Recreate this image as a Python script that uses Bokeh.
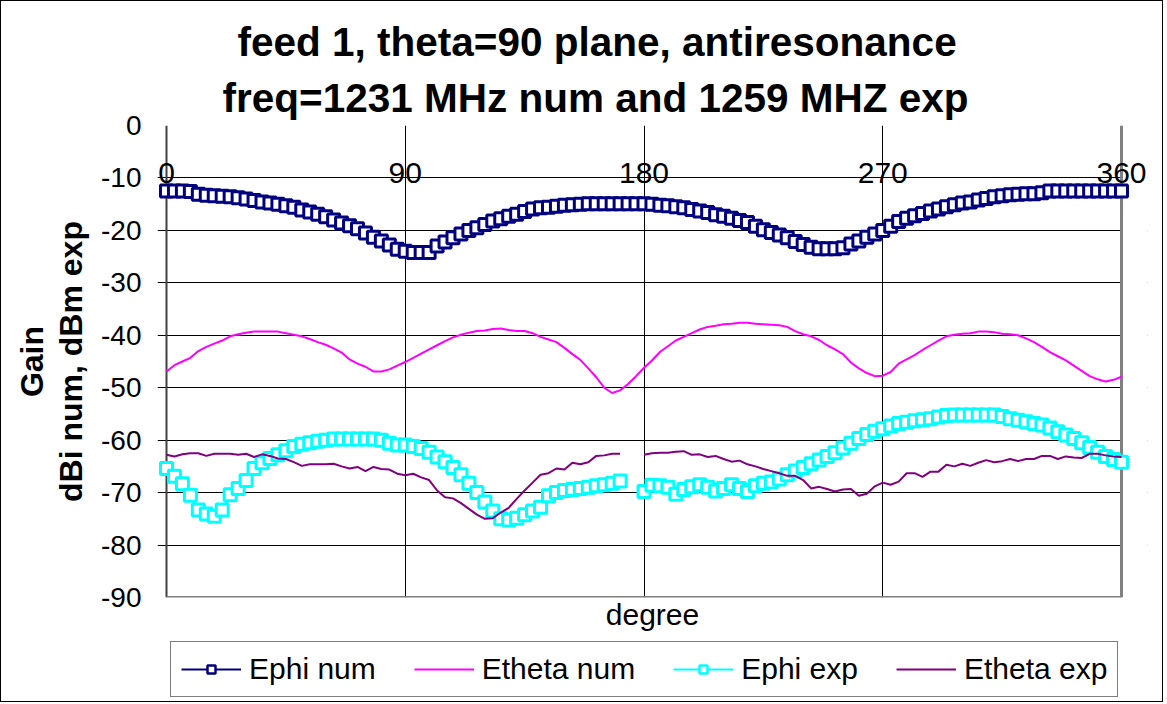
import math
from bokeh.plotting import figure
from bokeh.layouts import column
from bokeh.models import (ColumnDataSource, FixedTicker, LinearAxis, Range1d,
                          Title, Legend, LegendItem, BoxAnnotation)
from bokeh.embed import file_html
from bokeh.resources import INLINE

NAN = float("nan")

# x values: degrees (every 3 degrees)
ANGLE = list(range(0, 361, 3))

EPHI_NUM = [
    -12.5, -12.5, -12.5, -12.6, -13.1, -13.3, -13.4, -13.5, -13.6, -13.8,
    -14.0, -14.3, -14.6, -14.8, -15.0, -15.3, -15.6, -16.1, -16.5, -16.9,
    -17.4, -18.0, -18.6, -19.1, -19.7, -20.5, -21.3, -22.0, -22.8, -23.6,
    -24.0, -24.2, -24.2, -24.2, -23.0, -22.2, -21.4, -20.7, -20.0, -19.5,
    -18.9, -18.2, -17.8, -17.3, -16.9, -16.4, -15.9, -15.7, -15.6, -15.4,
    -15.2, -15.1, -15.0, -14.9, -14.9, -14.9, -14.9, -14.9, -14.9, -14.9,
    -14.9, -15.0, -15.2, -15.3, -15.5, -15.7, -16.0, -16.3, -16.6, -17.0,
    -17.3, -17.7, -18.1, -18.5, -19.2, -19.9, -20.4, -20.9, -21.4, -22.1,
    -22.7, -23.2, -23.5, -23.5, -23.5, -23.3, -22.6, -22.0, -21.3, -20.7,
    -20.0, -19.2, -18.3, -17.7, -17.2, -16.8, -16.3, -15.9, -15.5, -15.1,
    -14.8, -14.6, -14.2, -13.9, -13.6, -13.4, -13.2, -13.1, -13.0, -13.0,
    -12.8, -12.5, -12.5, -12.5, -12.5, -12.5, -12.5, -12.5, -12.5, -12.5,
    -12.5,
]

ETHETA_NUM = [
    -46.9, -45.7, -45.0, -44.3, -43.0, -42.2, -41.6, -41.0, -40.2, -39.8,
    -39.5, -39.3, -39.3, -39.3, -39.3, -39.6, -39.9, -40.2, -40.7, -41.3,
    -41.8, -42.5, -43.3, -44.6, -45.4, -46.0, -46.9, -46.9, -46.5, -45.8,
    -45.1, -44.3, -43.5, -42.7, -41.9, -41.1, -40.4, -39.9, -39.5, -39.2,
    -39.1, -38.8, -38.7, -39.0, -39.2, -39.2, -39.6, -40.3, -40.8, -41.3,
    -42.4, -43.6, -44.7, -46.3, -48.0, -50.0, -51.0, -50.5, -49.3, -47.8,
    -46.2, -44.8, -43.2, -42.1, -41.0, -40.3, -39.6, -38.9, -38.4, -38.2,
    -37.9, -37.8, -37.6, -37.6, -37.8, -37.9, -38.0, -38.1, -38.4, -39.2,
    -39.8, -40.2, -40.9, -41.9, -42.7, -43.6, -45.2, -46.3, -47.2, -47.8,
    -47.7, -47.0, -45.4, -44.6, -43.8, -42.8, -41.9, -41.0, -40.2, -39.9,
    -39.7, -39.6, -39.3, -39.3, -39.4, -39.7, -39.8, -40.0, -40.6, -41.3,
    -42.2, -43.2, -44.0, -44.8, -45.8, -46.8, -47.8, -48.4, -48.8, -48.5,
    -47.9,
]

EPHI_EXP = [
    -65.4, -66.9, -68.3, -70.5, -73.3, -74.1, -74.5, -73.3, -70.4, -69.2,
    -67.7, -65.4, -64.3, -63.5, -62.8, -62.0, -61.2, -60.8, -60.5, -60.2,
    -60.0, -59.8, -59.8, -59.8, -59.8, -59.8, -59.8, -60.0, -60.6, -60.9,
    -60.9, -61.2, -61.6, -62.3, -63.2, -64.1, -65.2, -66.6, -68.2, -70.0,
    -71.8, -73.5, -75.0, -75.2, -74.9, -74.2, -73.5, -72.8, -70.6, -70.0,
    -69.6, -69.4, -69.2, -69.0, -68.7, -68.5, -68.2, -67.8, NAN, NAN,
    -69.8, -68.6, -68.7, -69.0, -70.3, -69.4, -68.9, -68.5, -69.0, -69.7,
    -69.2, -68.5, -69.2, -69.8, -68.7, -68.2, -68.0, -67.4, -66.6, -65.9,
    -65.2, -64.5, -63.8, -63.1, -62.4, -61.5, -60.6, -59.7, -58.9, -58.3,
    -57.8, -57.3, -56.8, -56.6, -56.3, -56.1, -55.9, -55.6, -55.3, -55.2,
    -55.2, -55.2, -55.2, -55.2, -55.2, -55.5, -55.9, -56.2, -56.5, -56.8,
    -57.1, -57.7, -58.4, -59.0, -59.7, -60.5, -61.4, -62.3, -63.1, -63.7,
    -64.2,
]

ETHETA_EXP = [
    -62.8, -63.1, -62.7, -62.5, -62.5, -63.0, -62.6, -62.6, -62.6, -62.8,
    -62.6, -63.2, -62.7, -63.0, -63.5, -63.6, -64.2, -64.9, -64.6, -64.6,
    -64.6, -64.5, -65.0, -65.4, -65.1, -65.9, -65.1, -65.5, -65.6, -66.4,
    -66.7, -66.4, -67.1, -67.6, -69.6, -70.9, -71.1, -72.0, -73.1, -74.2,
    -75.0, -74.9, -73.8, -72.9, -71.2, -69.6, -68.1, -66.6, -66.3, -65.4,
    -65.6, -64.3, -64.6, -64.2, -63.0, -62.9, -62.6, -62.6, NAN, NAN,
    -62.8, -62.5, -62.4, -62.4, -62.2, -62.1, -62.8, -62.7, -63.2, -63.0,
    -63.6, -64.1, -63.9, -64.6, -65.0, -65.5, -65.9, -66.3, -66.8, -66.8,
    -67.6, -69.2, -68.9, -69.3, -69.8, -69.4, -69.3, -70.6, -70.2, -68.8,
    -68.1, -68.5, -67.9, -66.3, -66.3, -67.0, -66.0, -66.0, -64.7, -65.0,
    -64.5, -64.9, -64.3, -63.8, -64.2, -64.0, -63.6, -64.0, -63.6, -63.6,
    -63.0, -63.0, -63.6, -63.1, -63.3, -63.4, -62.6, -62.6, -62.9, -63.1,
    -63.2,
]

SERIES_NAMES = ["Ephi num", "Etheta num", "Ephi exp", "Etheta exp"]
X_TICKS = [0, 90, 180, 270, 360]
X_TICK_LABELS = ["0", "90", "180", "270", "360"]
X_GRID = [90, 180, 270]
Y_TICKS = [0, -10, -20, -30, -40, -50, -60, -70, -80, -90]
Y_TICK_LABELS = ["0", "-10", "-20", "-30", "-40", "-50", "-60", "-70", "-80", "-90"]

TITLE_1 = "feed 1, theta=90 plane, antiresonance"
TITLE_2 = "freq=1231 MHz num and 1259 MHZ exp"
Y_LABEL_1 = "Gain"
Y_LABEL_2 = "dBi num, dBm exp"
X_LABEL = "degree"

FONT = "Liberation Sans"
NAVY = "#000080"
MAGENTA = "#FF00FF"
CYAN = "#00FFFF"
PURPLE = "#800080"

# layout geometry (pixels): axis from 0 to 360 deg spans 955 px; the canvas area
# reaches 9 px left of 0 (tick marks) and 26 px right of 360 (room for the "360" label)
PLOT_PX = 955.0
PAD_LEFT_PX = 9.0
PAD_RIGHT_PX = 26.0
deg_per_px = (X_TICKS[-1] - X_TICKS[0]) / PLOT_PX
x_start = X_TICKS[0] - PAD_LEFT_PX * deg_per_px
x_end = X_TICKS[-1] + PAD_RIGHT_PX * deg_per_px

src = ColumnDataSource(dict(angle=ANGLE, ephi_num=EPHI_NUM, etheta_num=ETHETA_NUM,
                            ephi_exp=EPHI_EXP, etheta_exp=ETHETA_EXP))

# ---------------- main chart ----------------
p = figure(width=1161, height=637, x_range=Range1d(x_start, x_end),
           y_range=Range1d(Y_TICKS[-1], Y_TICKS[0]),
           output_backend="svg", toolbar_location=None,
           min_border_left=156, min_border_right=15,
           min_border_top=124, min_border_bottom=41)
p.background_fill_color = "white"
p.border_fill_color = "white"
p.outline_line_color = None

# grids (horizontal grid lines reach 9 px left of the axis: these are the tick marks)
p.xgrid.ticker = FixedTicker(ticks=X_GRID)
p.xgrid.grid_line_color = "black"
p.xgrid.grid_line_width = 1
p.ygrid.ticker = FixedTicker(ticks=Y_TICKS)
p.ygrid.grid_line_color = "black"
p.ygrid.grid_line_width = 1
# blank out the grid to the right of 360 deg
p.add_layout(BoxAnnotation(left=X_TICKS[-1], fill_color="white", fill_alpha=1.0,
                           line_color="white", line_width=2, level="underlay"))

# y axis (labels only, ticks come from grid lines)
yax = p.yaxis[0]
yax.ticker = FixedTicker(ticks=Y_TICKS)
yax.major_label_overrides = {t: s for t, s in zip(Y_TICKS, Y_TICK_LABELS)}
yax.major_tick_out = 0
yax.major_tick_in = 0
yax.major_tick_line_color = None
yax.minor_tick_line_color = None
yax.axis_line_color = None
yax.major_label_text_font = FONT
yax.major_label_text_font_size = "28px"
yax.major_label_text_color = "black"
yax.major_label_standoff = 16
yax.axis_label = Y_LABEL_2
yax.axis_label_text_font = FONT
yax.axis_label_text_font_size = "32px"
yax.axis_label_text_font_style = "bold"
yax.axis_label_text_color = "black"
yax.axis_label_standoff = 9

yax2 = LinearAxis(ticker=FixedTicker(ticks=Y_TICKS), axis_line_color=None,
                  major_tick_line_color=None, minor_tick_line_color=None,
                  major_tick_out=0, major_tick_in=0, major_label_standoff=0,
                  major_label_text_font_size="1px", major_label_text_color=None,
                  axis_label=Y_LABEL_1, axis_label_text_font=FONT,
                  axis_label_text_font_size="32px", axis_label_text_font_style="bold",
                  axis_label_text_color="black", axis_label_standoff=1)
p.add_layout(yax2, "left")

# x axis below: only the title "degree"
xax = p.xaxis[0]
xax.ticker = FixedTicker(ticks=X_GRID)
xax.axis_line_color = None
xax.major_tick_line_color = None
xax.minor_tick_line_color = None
xax.major_tick_out = 0
xax.major_tick_in = 0
xax.major_label_standoff = 0
xax.major_label_text_font_size = "1px"
xax.major_label_text_color = None
xax.axis_label = X_LABEL
xax.axis_label_text_font = FONT
xax.axis_label_text_font_size = "30px"
xax.axis_label_text_font_style = "normal"
xax.axis_label_text_color = "black"
xax.axis_label_standoff = 0

# x tick labels: an axis drawn where the vertical axis crosses (gain = 0)
xtop = LinearAxis(ticker=FixedTicker(ticks=X_TICKS), fixed_location=Y_TICKS[0],
                  major_label_overrides={t: s for t, s in zip(X_TICKS, X_TICK_LABELS)},
                  axis_line_color=None, major_tick_line_color=None,
                  minor_tick_line_color=None, major_tick_out=0, major_tick_in=0,
                  major_label_standoff=37, major_label_text_font=FONT,
                  major_label_text_font_size="30px", major_label_text_color="black")
p.add_layout(xtop, "below")

# plot-area borders: value axis line at 0 deg, grey edges at 360 deg and at -90
p.vspan(x=[X_TICKS[0]], line_color="#404040", line_width=2)
p.vspan(x=[X_TICKS[-1]], line_color="#808080", line_width=3)
p.segment(x0=[X_TICKS[0]], x1=[X_TICKS[-1]], y0=[Y_TICKS[-1]], y1=[Y_TICKS[-1]],
          line_color="#808080", line_width=3)

# series
p.line("angle", "ephi_num", source=src, line_color=NAVY, line_width=2)
p.scatter("angle", "ephi_num", source=src, marker="square", size=12,
          line_color=NAVY, fill_color="white", line_width=3)
p.line("angle", "etheta_num", source=src, line_color=MAGENTA, line_width=2)
p.line("angle", "ephi_exp", source=src, line_color=CYAN, line_width=2)
p.scatter("angle", "ephi_exp", source=src, marker="square", size=12,
          line_color=CYAN, fill_color="white", line_width=3)
p.line("angle", "etheta_exp", source=src, line_color=PURPLE, line_width=2)

# two-line title (added nearest the plot first)
p.add_layout(Title(text=TITLE_2, align="left", text_font=FONT, text_font_size="40.5px",
                   text_font_style="bold", text_color="black", offset=65, standoff=10), "above")
p.add_layout(Title(text=TITLE_1, align="left", text_font=FONT, text_font_size="40.5px",
                   text_font_style="bold", text_color="black", offset=80, standoff=6), "above")

# ---------------- legend strip ----------------
# the series are drawn here outside the visible range, only their legend keys show
leg = figure(width=1161, height=63, x_range=Range1d(0, 1), y_range=Range1d(0, 1),
             output_backend="svg", toolbar_location=None, min_border=0,
             x_axis_location=None, y_axis_location=None)
leg.grid.visible = False
leg.outline_line_color = None
leg.background_fill_color = "white"
leg.border_fill_color = "white"
g1 = leg.line("angle", "ephi_num", source=src, line_color=NAVY, line_width=2)
g1m = leg.scatter("angle", "ephi_num", source=src, marker="square", size=9,
                  line_color=NAVY, fill_color="white", line_width=2.5)
g2 = leg.line("angle", "etheta_num", source=src, line_color=MAGENTA, line_width=2)
g3 = leg.line("angle", "ephi_exp", source=src, line_color=CYAN, line_width=2)
g3m = leg.scatter("angle", "ephi_exp", source=src, marker="square", size=9,
                  line_color=CYAN, fill_color="white", line_width=2.5)
g4 = leg.line("angle", "etheta_exp", source=src, line_color=PURPLE, line_width=2)

legend = Legend(items=[LegendItem(label=SERIES_NAMES[0], renderers=[g1, g1m]),
                       LegendItem(label=SERIES_NAMES[1], renderers=[g2]),
                       LegendItem(label=SERIES_NAMES[2], renderers=[g3, g3m]),
                       LegendItem(label=SERIES_NAMES[3], renderers=[g4])],
                orientation="horizontal", location=(13, 4),
                label_text_font=FONT, label_text_font_size="30px",
                label_text_color="black",
                glyph_width=60, glyph_height=20, spacing=38, label_standoff=8,
                padding=10, margin=0,
                border_line_color="black", border_line_width=1,
                background_fill_color="white", background_fill_alpha=1.0)
leg.add_layout(legend)

layout = column(p, leg, spacing=0)
layout.styles = {"border": "1px solid black"}

with open("out.html", "w", encoding="utf-8") as f:
    f.write(file_html(layout, INLINE))
